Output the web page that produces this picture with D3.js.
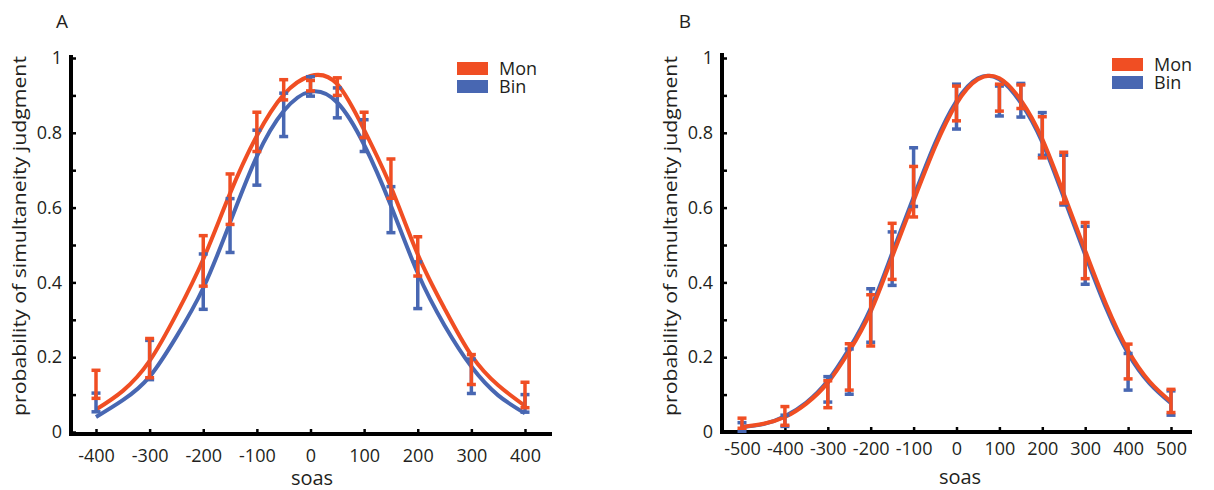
<!DOCTYPE html>
<html><head><meta charset="utf-8">
<script src="https://cdn.jsdelivr.net/npm/d3@7"></script>
<style>
body{margin:0;background:#fff}
text{font-family:'Open Sans',sans-serif;fill:#231f20}
</style>
</head><body>
<svg id="c" width="1214" height="490"></svg>
<script>
// ---------- data ----------
const seriesNames = ["Mon", "Bin"];
const yTicks = [0,0.1,0.2,0.3,0.4,0.5,0.6,0.7,0.8,0.9,1];

// Panel A
const xTicksA = [-400,-300,-200,-100,0,100,200,300,400];
const soaA = [-400,-300,-200,-150,-100,-50,0,50,100,150,200,300,400];
const monLowA  = [0.09,0.145,0.39,0.555,0.75,0.888,0.912,0.90,0.787,0.625,0.417,0.127,0.065];
const monHighA = [0.165,0.25,0.525,0.69,0.855,0.942,0.94,0.947,0.855,0.73,0.522,0.207,0.133];
const binLowA  = [0.054,0.14,0.328,0.48,0.66,0.79,0.898,0.84,0.75,0.533,0.33,0.103,0.053];
const binHighA = [0.104,0.245,0.476,0.624,0.807,0.906,0.95,0.92,0.835,0.656,0.455,0.195,0.10];
const fitXA = [-400,-350,-300,-250,-200,-150,-100,-50,0,50,100,150,200,250,300,350,400];
const monFitA = [0.06,0.11,0.19,0.315,0.462,0.638,0.792,0.902,0.952,0.93,0.808,0.655,0.475,0.33,0.205,0.125,0.07];
const binFitA = [0.04,0.085,0.148,0.255,0.385,0.56,0.737,0.858,0.91,0.881,0.768,0.605,0.425,0.285,0.175,0.098,0.05];

// Panel B
const xTicksB = [-500,-400,-300,-200,-100,0,100,200,300,400,500];
const soaB = [-500,-400,-300,-250,-200,-150,-100,0,100,150,200,250,300,400,500];
const monLowB  = [0.01,0.018,0.065,0.112,0.23,0.408,0.575,0.832,0.858,0.865,0.733,0.612,0.41,0.142,0.052];
const monHighB = [0.037,0.068,0.137,0.236,0.367,0.558,0.71,0.925,0.93,0.928,0.843,0.748,0.56,0.235,0.114];
const binLowB  = [0.002,0.015,0.08,0.101,0.24,0.392,0.603,0.81,0.845,0.842,0.74,0.607,0.395,0.112,0.045];
const binHighB = [0.025,0.045,0.148,0.222,0.383,0.535,0.76,0.93,0.925,0.932,0.854,0.74,0.55,0.21,0.11];
const fitXB = [-500,-450,-400,-350,-300,-250,-200,-150,-100,-50,0,50,100,150,200,250,300,350,400,450,500];
const monFitB = [0.014,0.022,0.040,0.076,0.132,0.216,0.322,0.468,0.618,0.762,0.878,0.943,0.946,0.887,0.783,0.637,0.485,0.338,0.218,0.135,0.081];
const binFitB = [0.013,0.021,0.042,0.079,0.137,0.223,0.331,0.478,0.628,0.772,0.885,0.946,0.943,0.880,0.775,0.627,0.474,0.328,0.210,0.130,0.077];

// ---------- drawing ----------
const RED = "#F04E23", BLUE = "#4867B2";
const svg = d3.select("#c");

function panel(p){
  const g = svg.append("g");
  const x = d3.scaleLinear().domain(p.xDomain).range(p.xRange);
  const y = d3.scaleLinear().domain([0,1]).range([432,58]);

  // axis lines
  g.append("line").attr("x1",p.yAxisX).attr("x2",p.yAxisX).attr("y1",p.yTop).attr("y2",p.xAxisY+2)
    .attr("stroke","#000").attr("stroke-width",4);
  g.append("line").attr("x1",p.yAxisX-2).attr("x2",p.xEnd).attr("y1",p.xAxisY).attr("y2",p.xAxisY)
    .attr("stroke","#000").attr("stroke-width",4);

  const ya = d3.axisLeft(y).tickValues(yTicks).tickSizeInner(-5).tickSizeOuter(0).tickPadding(9)
    .tickFormat(d => (Math.round(d*10)%2===0) ? String(Math.round(d*10)/10) : "");
  const yg = g.append("g").attr("transform",`translate(${p.yAxisX},0)`).call(ya);
  yg.select(".domain").remove();
  yg.selectAll(".tick line").attr("stroke","#000").attr("stroke-width",2.5);
  yg.selectAll("text").attr("font-size",18).attr("fill","#231f20").style("font-family","'Open Sans',sans-serif");

  const xa = d3.axisBottom(x).tickValues(p.xTicks).tickSizeInner(-5).tickSizeOuter(0).tickPadding(p.xPad)
    .tickFormat(d => String(d));
  const xg = g.append("g").attr("transform",`translate(0,${p.xAxisY})`).call(xa);
  xg.select(".domain").remove();
  xg.selectAll(".tick line").attr("stroke","#000").attr("stroke-width",2.5);
  xg.selectAll("text").attr("font-size",18).attr("fill","#231f20").style("font-family","'Open Sans',sans-serif");

  // labels
  g.append("text").attr("x",p.letterX).attr("y",28).attr("text-anchor","middle").attr("font-size",19).text(p.letter);
  g.append("text").attr("x",p.soasX).attr("y",p.soasY).attr("text-anchor","middle").attr("font-size",20).text("soas");
  g.append("text").attr("transform",`translate(${p.ylabX},236) rotate(-90)`).attr("text-anchor","middle")
    .attr("font-size",18).attr("textLength",360).attr("lengthAdjust","spacingAndGlyphs")
    .text("probability of simultaneity judgment");

  // curves
  const line = d3.line().x(d=>x(d[0])).y(d=>y(d[1])).curve(d3.curveNatural);
  g.append("path").datum(p.fitX.map((v,i)=>[v,p.binFit[i]])).attr("d",line)
    .attr("fill","none").attr("stroke",BLUE).attr("stroke-width",4);
  g.append("path").datum(p.fitX.map((v,i)=>[v,p.monFit[i]])).attr("d",line)
    .attr("fill","none").attr("stroke",RED).attr("stroke-width",4);

  // error bars
  function bars(lo, hi, col){
    const data = p.soa.map((s,i)=>({s, lo:lo[i], hi:hi[i]}));
    const eb = g.append("g").attr("stroke",col).attr("stroke-width",3.5);
    eb.selectAll(".v").data(data).join("line")
      .attr("x1",d=>x(d.s)).attr("x2",d=>x(d.s)).attr("y1",d=>y(d.lo)).attr("y2",d=>y(d.hi));
    eb.selectAll(".cl").data(data).join("line")
      .attr("x1",d=>x(d.s)-4.5).attr("x2",d=>x(d.s)+4.5).attr("y1",d=>y(d.lo)).attr("y2",d=>y(d.lo));
    eb.selectAll(".ch").data(data).join("line")
      .attr("x1",d=>x(d.s)-4.5).attr("x2",d=>x(d.s)+4.5).attr("y1",d=>y(d.hi)).attr("y2",d=>y(d.hi));
  }
  bars(p.binLow, p.binHigh, BLUE);
  bars(p.monLow, p.monHigh, RED);

  // legend
  const cols = [RED, BLUE];
  seriesNames.forEach((n,i)=>{
    g.append("rect").attr("x",p.legX).attr("y",p.legY + i*18).attr("width",31).attr("height",13).attr("fill",cols[i]);
    g.append("text").attr("x",p.legX+42).attr("y",p.legY + i*18 + 13).attr("font-size",18).text(n);
  });
}

panel({xDomain:[-400,400], xRange:[96,525], xTicks:xTicksA, yAxisX:71, yTop:55, xAxisY:434, xEnd:552, xPad:15,
  letter:"A", letterX:62, soasX:312, soasY:485, ylabX:26,
  soa:soaA, monLow:monLowA, monHigh:monHighA, binLow:binLowA, binHigh:binHighA,
  fitX:fitXA, monFit:monFitA, binFit:binFitA, legX:457, legY:62});

panel({xDomain:[-500,500], xRange:[742,1171], xTicks:xTicksB, yAxisX:722, yTop:53, xAxisY:432, xEnd:1192, xPad:10,
  letter:"B", letterX:685, soasX:960, soasY:484, ylabX:677,
  soa:soaB, monLow:monLowB, monHigh:monHighB, binLow:binLowB, binHigh:binHighB,
  fitX:fitXB, monFit:monFitB, binFit:binFitB, legX:1112, legY:58});
</script>
</body></html>
